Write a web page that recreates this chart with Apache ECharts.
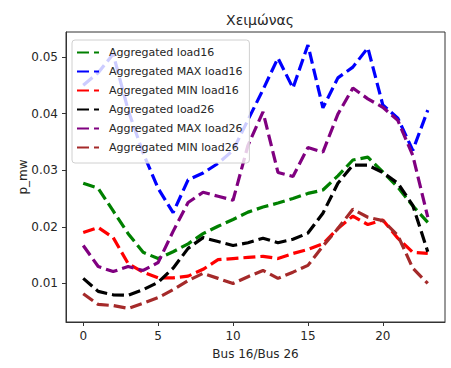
<!DOCTYPE html>
<html>
<head>
<meta charset="utf-8">
<script src="https://cdn.jsdelivr.net/npm/echarts@6/dist/echarts.min.js"></script>
<style>
  html, body { margin: 0; padding: 0; background: #fff; }
  #chart { width: 451px; height: 368px; }
</style>
</head>
<body>
<div id="chart"></div>
<script>
// Hourly index shared by both buses
const hours = [0,1,2,3,4,5,6,7,8,9,10,11,12,13,14,15,16,17,18,19,20,21,22,23];

const load16 = [0.0277, 0.0268, 0.0228, 0.0188, 0.0155, 0.0144, 0.0156, 0.0170, 0.0188, 0.0201, 0.0213, 0.0226,
                0.0235, 0.0242, 0.0250, 0.0259, 0.0265, 0.0290, 0.0318, 0.0323, 0.0297, 0.0270, 0.0237, 0.0208];
const maxLoad16 = [0.0450, 0.0472, 0.0505, 0.0406, 0.0330, 0.0268, 0.0225, 0.0283, 0.0295, 0.0312, 0.0335, 0.0389,
                   0.0442, 0.0498, 0.0445, 0.0521, 0.0410, 0.0463, 0.0482, 0.0516, 0.0415, 0.0392, 0.0335, 0.0406];
const minLoad16 = [0.0190, 0.0199, 0.0181, 0.0135, 0.0120, 0.0110, 0.0110, 0.0113, 0.0125, 0.0142, 0.0144, 0.0146,
                   0.0148, 0.0144, 0.0153, 0.0160, 0.0170, 0.0197, 0.0219, 0.0204, 0.0212, 0.0180, 0.0155, 0.0153];
const load26 = [0.0109, 0.0086, 0.0080, 0.0079, 0.0089, 0.0102, 0.0127, 0.0162, 0.0181, 0.0174, 0.0167, 0.0172,
                0.0180, 0.0172, 0.0178, 0.0189, 0.0224, 0.0277, 0.0309, 0.0309, 0.0296, 0.0277, 0.0238, 0.0156];
const maxLoad26 = [0.0167, 0.0130, 0.0121, 0.0130, 0.0123, 0.0137, 0.0192, 0.0243, 0.0261, 0.0254, 0.0247, 0.0344,
                   0.0403, 0.0296, 0.0289, 0.0340, 0.0332, 0.0399, 0.0445, 0.0426, 0.0411, 0.0388, 0.0326, 0.0217];
const minLoad26 = [0.0082, 0.0063, 0.0061, 0.0056, 0.0065, 0.0075, 0.0089, 0.0105, 0.0118, 0.0109, 0.0100, 0.0112,
                   0.0123, 0.0109, 0.0120, 0.0132, 0.0166, 0.0197, 0.0231, 0.0217, 0.0211, 0.0185, 0.0127, 0.0100];

const seriesNames = ['Aggregated load16', 'Aggregated MAX load16', 'Aggregated MIN load16',
                     'Aggregated load26', 'Aggregated MAX load26', 'Aggregated MIN load26'];
const seriesValues = [load16, maxLoad16, minLoad16, load26, maxLoad26, minLoad26];
const seriesColors = ['#008000', '#0000ff', '#ff0000', '#000000', '#800080', '#a52a2a'];

const xTicks = [0, 5, 10, 15, 20];
const yTicks = [0.01, 0.02, 0.03, 0.04, 0.05];

const textColor = '#262626';
const fontFamily = 'DejaVu Sans';

const chart = echarts.init(document.getElementById('chart'), null, { renderer: 'svg' });

chart.setOption({
  animation: false,
  backgroundColor: '#fff',
  title: {
    text: 'Χειμώνας',
    left: 255, top: 8, textAlign: 'center',
    textStyle: { fontFamily, fontSize: 14, fontWeight: 'normal', color: textColor }
  },
  grid: {
    left: 66, right: 6, top: 32, bottom: 46,
    show: true, borderColor: '#333', borderWidth: 1, backgroundColor: '#fff'
  },
  legend: {
    orient: 'vertical',
    left: 72, top: 40,
    padding: [7, 7, 10, 4],
    itemWidth: 22, itemHeight: 10, itemGap: 8,
    // hide the marker so only the dashed stroke is shown as the key
    itemStyle: { opacity: 0 },
    backgroundColor: 'rgba(255,255,255,0.8)',
    borderColor: '#d0d0d0', borderWidth: 1, borderRadius: 3,
    textStyle: { fontFamily, fontSize: 11, color: textColor, padding: [0, 0, 0, 5] },
    data: seriesNames
  },
  xAxis: {
    type: 'value',
    min: -1.15, max: 24.15,
    name: 'Bus 16/Bus 26',
    nameLocation: 'middle', nameGap: 26, nameMoveOverlap: false,
    nameTextStyle: { fontFamily, fontSize: 12, color: textColor },
    axisLine: { show: true, onZero: false, lineStyle: { color: '#333' } },
    axisTick: { show: true, length: 4, customValues: xTicks, lineStyle: { color: '#333' } },
    axisLabel: { customValues: xTicks, margin: 8, fontFamily, fontSize: 12, color: textColor },
    splitLine: { show: false }
  },
  yAxis: {
    type: 'value',
    min: 0.0032, max: 0.0544,
    name: 'p_mw',
    nameLocation: 'middle', nameGap: 37, nameMoveOverlap: false,
    nameTextStyle: { fontFamily, fontSize: 12, color: textColor },
    axisLine: { show: true, onZero: false, lineStyle: { color: '#333' } },
    axisTick: { show: true, length: 4, customValues: yTicks, lineStyle: { color: '#333' } },
    axisLabel: {
      customValues: yTicks, margin: 8, fontFamily, fontSize: 12, color: textColor,
      formatter: v => v.toFixed(2)
    },
    splitLine: { show: false }
  },
  series: seriesNames.map((name, k) => ({
    name,
    type: 'line',
    showSymbol: false,
    symbol: 'none',
    color: seriesColors[k],
    lineStyle: { width: 3.2, type: [12, 5], color: seriesColors[k] },
    data: hours.map((h, i) => [h, seriesValues[k][i]])
  }))
});
</script>
</body>
</html>
